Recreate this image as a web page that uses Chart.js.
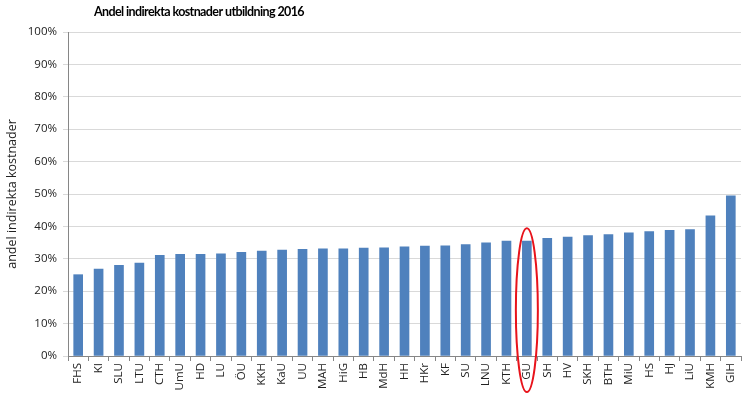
<!DOCTYPE html>
<html>
<head>
<meta charset="utf-8">
<script src="https://cdn.jsdelivr.net/npm/chart.js@4"></script>
<style>
  html,body{margin:0;padding:0;background:#fff;}
  #wrap{width:749px;height:398px;position:relative;}
</style>
</head>
<body>
<div id="wrap"><canvas id="c"></canvas></div>
<script>
const categories = ["FHS","KI","SLU","LTU","CTH","UmU","HD","LU","ÖU","KKH","KaU","UU","MAH","HiG","HB","MdH","HH","HKr","KF","SU","LNU","KTH","GU","SH","HV","SKH","BTH","MiU","HS","HJ","LiU","KMH","GIH"];
const shares = [25.1,26.8,28.0,28.7,31.1,31.4,31.4,31.5,32.0,32.4,32.7,32.9,33.1,33.1,33.3,33.4,33.7,33.9,34.0,34.4,34.9,35.5,35.5,36.3,36.7,37.2,37.5,38.0,38.4,38.8,39.0,43.3,49.4];
const yTicks = [0,10,20,30,40,50,60,70,80,90,100];
const highlight = "GU";
const titleText = "Andel indirekta kostnader utbildning 2016";
const yTitle = "andel indirekta kostnader";

const FONT = "'Open Sans','Noto Sans',sans-serif";

// title sits left of centre in the original, so draw it ourselves
const titlePlugin = {
  id: "topTitle",
  afterDraw(chart) {
    const ctx = chart.ctx;
    ctx.save();
    ctx.font = "bold 12.5px Lato, sans-serif";
    if ("letterSpacing" in ctx) ctx.letterSpacing = "-0.6px";
    ctx.fillStyle = "#000";
    ctx.textAlign = "center";
    ctx.textBaseline = "middle";
    ctx.fillText(titleText, 199, 12);
    ctx.restore();
  }
};

// red ring round the highlighted university
const ringPlugin = {
  id: "ring",
  afterDraw(chart) {
    const xs = chart.scales.x, ys = chart.scales.y;
    const i = categories.indexOf(highlight);
    if (i < 0) return;
    const cx = xs.getPixelForValue(i);
    const top = ys.getPixelForValue(shares[i] + 3.9);
    const bottom = chart.chartArea.bottom + 36;
    const ctx = chart.ctx;
    ctx.save();
    ctx.strokeStyle = "#e8131b";
    ctx.lineWidth = 2;
    ctx.beginPath();
    ctx.ellipse(cx, (top + bottom) / 2, 11, (bottom - top) / 2, 0, 0, Math.PI * 2);
    ctx.stroke();
    ctx.restore();
  }
};

new Chart(document.getElementById("c"), {
  type: "bar",
  data: {
    labels: categories,
    datasets: [{ data: shares, backgroundColor: "#4f81bd", barThickness: 9 }]
  },
  options: {
    responsive: true, maintainAspectRatio: false, animation: false,
    layout: { padding: { top: 32, right: 8, left: 0, bottom: 0 } },
    plugins: { legend: { display: false }, tooltip: { enabled: false } },
    scales: {
      x: {
        grid: { display: true, drawOnChartArea: false, color: "#868686", tickLength: 5 },
        border: { color: "#868686" },
        ticks: { color: "#222", font: { family: FONT, size: 11.5 }, minRotation: 90, maxRotation: 90, autoSkip: false, padding: 2 },
        afterFit: s => { s.height = 42; }
      },
      y: {
        min: 0, max: 100,
        afterBuildTicks: s => { s.ticks = yTicks.map(v => ({ value: v })); },
        grid: { color: "#d9d9d9", tickLength: 5 },
        border: { color: "#868686" },
        ticks: { color: "#222", font: { family: FONT, size: 11.5 }, padding: 6, callback: v => v + "%" },
        title: { display: true, text: yTitle, color: "#222", font: { family: FONT, size: 12.5 }, padding: { top: 5, bottom: 0 } },
        afterFit: s => { s.width = 68; }
      }
    }
  },
  plugins: [titlePlugin, ringPlugin]
});
</script>
</body>
</html>
